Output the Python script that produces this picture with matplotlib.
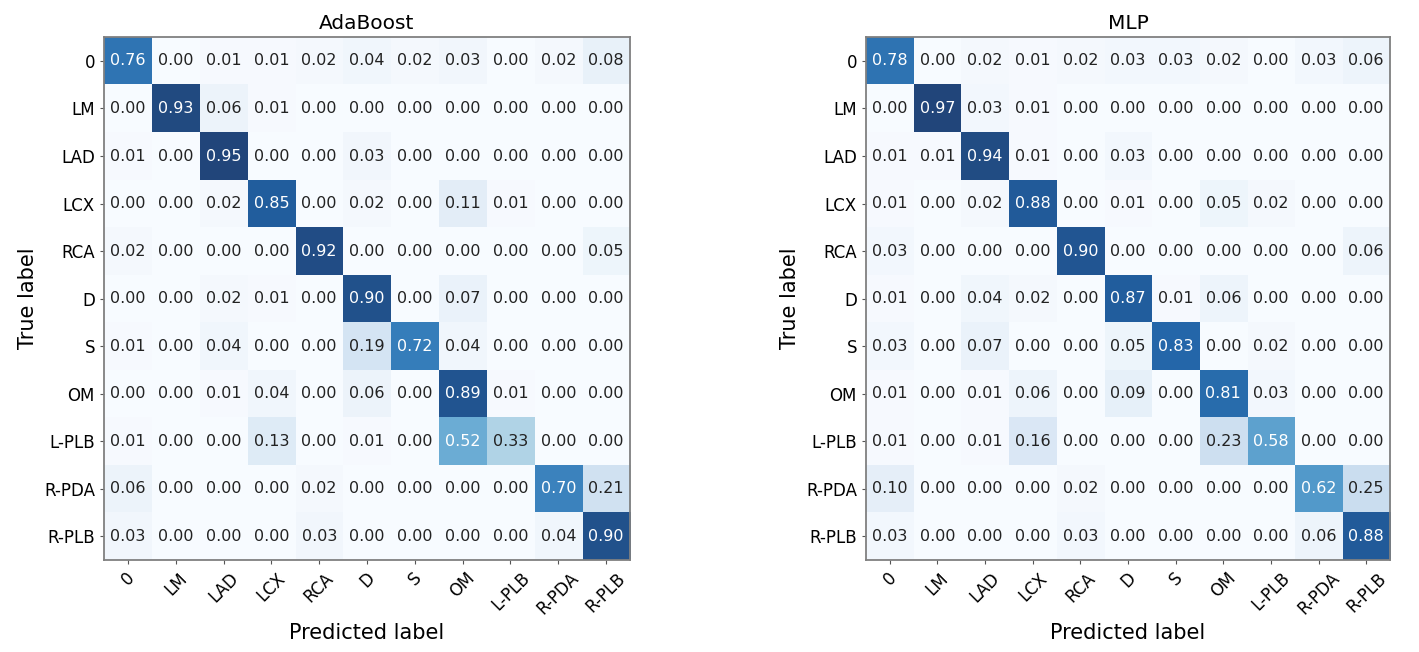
import numpy as np
import matplotlib
matplotlib.use('Agg')
import matplotlib.pyplot as plt

classes = ['0', 'LM', 'LAD', 'LCX', 'RCA', 'D', 'S', 'OM', 'L-PLB', 'R-PDA', 'R-PLB']

cm_adaboost = np.array([
    [0.76, 0.00, 0.01, 0.01, 0.02, 0.04, 0.02, 0.03, 0.00, 0.02, 0.08],
    [0.00, 0.93, 0.06, 0.01, 0.00, 0.00, 0.00, 0.00, 0.00, 0.00, 0.00],
    [0.01, 0.00, 0.95, 0.00, 0.00, 0.03, 0.00, 0.00, 0.00, 0.00, 0.00],
    [0.00, 0.00, 0.02, 0.85, 0.00, 0.02, 0.00, 0.11, 0.01, 0.00, 0.00],
    [0.02, 0.00, 0.00, 0.00, 0.92, 0.00, 0.00, 0.00, 0.00, 0.00, 0.05],
    [0.00, 0.00, 0.02, 0.01, 0.00, 0.90, 0.00, 0.07, 0.00, 0.00, 0.00],
    [0.01, 0.00, 0.04, 0.00, 0.00, 0.19, 0.72, 0.04, 0.00, 0.00, 0.00],
    [0.00, 0.00, 0.01, 0.04, 0.00, 0.06, 0.00, 0.89, 0.01, 0.00, 0.00],
    [0.01, 0.00, 0.00, 0.13, 0.00, 0.01, 0.00, 0.52, 0.33, 0.00, 0.00],
    [0.06, 0.00, 0.00, 0.00, 0.02, 0.00, 0.00, 0.00, 0.00, 0.70, 0.21],
    [0.03, 0.00, 0.00, 0.00, 0.03, 0.00, 0.00, 0.00, 0.00, 0.04, 0.90],
])

cm_mlp = np.array([
    [0.78, 0.00, 0.02, 0.01, 0.02, 0.03, 0.03, 0.02, 0.00, 0.03, 0.06],
    [0.00, 0.97, 0.03, 0.01, 0.00, 0.00, 0.00, 0.00, 0.00, 0.00, 0.00],
    [0.01, 0.01, 0.94, 0.01, 0.00, 0.03, 0.00, 0.00, 0.00, 0.00, 0.00],
    [0.01, 0.00, 0.02, 0.88, 0.00, 0.01, 0.00, 0.05, 0.02, 0.00, 0.00],
    [0.03, 0.00, 0.00, 0.00, 0.90, 0.00, 0.00, 0.00, 0.00, 0.00, 0.06],
    [0.01, 0.00, 0.04, 0.02, 0.00, 0.87, 0.01, 0.06, 0.00, 0.00, 0.00],
    [0.03, 0.00, 0.07, 0.00, 0.00, 0.05, 0.83, 0.00, 0.02, 0.00, 0.00],
    [0.01, 0.00, 0.01, 0.06, 0.00, 0.09, 0.00, 0.81, 0.03, 0.00, 0.00],
    [0.01, 0.00, 0.01, 0.16, 0.00, 0.00, 0.00, 0.23, 0.58, 0.00, 0.00],
    [0.10, 0.00, 0.00, 0.00, 0.02, 0.00, 0.00, 0.00, 0.00, 0.62, 0.25],
    [0.03, 0.00, 0.00, 0.00, 0.03, 0.00, 0.00, 0.00, 0.00, 0.06, 0.88],
])


def plot_cm(ax, cm, title):
    ax.imshow(cm, interpolation='nearest', cmap=plt.cm.Blues, aspect='auto', alpha=0.9)
    ax.set_title(title, fontsize=14.5)
    ticks = np.arange(len(classes))
    ax.set_xticks(ticks)
    ax.set_xticklabels(classes, rotation=45, fontsize=12)
    ax.set_yticks(ticks)
    ax.set_yticklabels(classes, fontsize=12)
    ax.tick_params(length=3, color='#555555')
    thresh = cm.max() / 2.
    for i in range(cm.shape[0]):
        for j in range(cm.shape[1]):
            ax.text(j, i, format(cm[i, j], '.2f'), ha='center', va='center',
                    fontsize=11.5, color='white' if cm[i, j] > thresh else '#222222')
    ax.set_ylabel('True label', fontsize=15)
    ax.set_xlabel('Predicted label', fontsize=15)
    for sp in ax.spines.values():
        sp.set_color('#808080')
        sp.set_linewidth(1.3)


fig = plt.figure(figsize=(14.19, 6.52), dpi=100)
left = fig.add_axes([0.0733, 0.141, 0.3707, 0.802])
right = fig.add_axes([0.6103, 0.141, 0.3693, 0.802])
plot_cm(left, cm_adaboost, 'AdaBoost')
plot_cm(right, cm_mlp, 'MLP')

fig.savefig('out.png', dpi=100)
